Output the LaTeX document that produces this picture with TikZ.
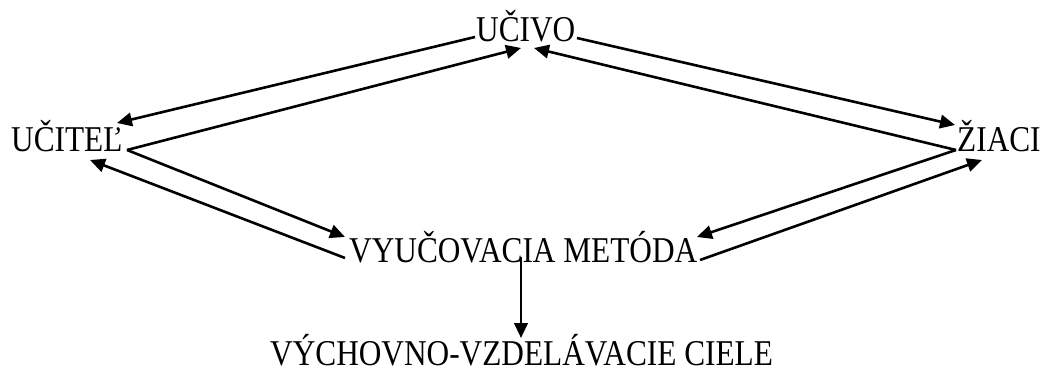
\documentclass[tikz,border=0pt]{standalone}
\usepackage{fontspec}
\setmainfont{Liberation Serif}
\usetikzlibrary{arrows.meta}
\newcommand{\lbltxt}[1]{\scalebox{1}[1.16]{#1}}
\begin{document}
\begin{tikzpicture}[x=1pt,y=-1pt,
  lbl/.style={inner sep=0pt, anchor=base west, font=\fontsize{31.3}{36}\selectfont},
  conn/.style={line width=2.6pt, -{Triangle[length=15pt,width=13.5pt]}}]
\useasboundingbox (0,0) rectangle (1044,374);
\node[lbl] (ucivo)  at (476,42)  {\lbltxt{UČIVO}};
\node[lbl] (ucitel) at (11,152)  {\lbltxt{UČITEĽ}};
\node[lbl] (ziaci)  at (957,152) {\lbltxt{ŽIACI}};
\node[lbl] (metoda) at (349,262) {\lbltxt{VYUČOVACIA METÓDA}};
\node[lbl] (ciele)  at (270,365) {\lbltxt{VÝCHOVNO-VZDELÁVACIE CIELE}};
% attachment points
\coordinate (ucivoL)  at (475,37);
\coordinate (ucivoR)  at (577,38);
\coordinate (ucivoTL) at (521,48);
\coordinate (ucivoTR) at (534,48);
\coordinate (ucitelE) at (127,150);
\coordinate (ucitelT) at (117,123);
\coordinate (ucitelB) at (90,160);
\coordinate (ziaciW)  at (956,150);
\coordinate (ziaciT)  at (955,125);
\coordinate (ziaciB)  at (982,160);
\coordinate (metTL)   at (345,237);
\coordinate (metBL)   at (345,258);
\coordinate (metTR)   at (697,237);
\coordinate (metBR)   at (700,260);
\coordinate (metS)    at (521,257);
\coordinate (cieleN)  at (521,338);
\draw[conn] (ucivoL) -- (ucitelT);
\draw[conn] (ucitelE) -- (ucivoTL);
\draw[conn] (ucivoR) -- (ziaciT);
\draw[conn] (ziaciW) -- (ucivoTR);
\draw[conn] (ucitelE) -- (metTL);
\draw[conn] (metBL) -- (ucitelB);
\draw[conn] (ziaciW) -- (metTR);
\draw[conn] (metBR) -- (ziaciB);
\draw[conn] (metS) -- (cieleN);
\end{tikzpicture}
\end{document}
